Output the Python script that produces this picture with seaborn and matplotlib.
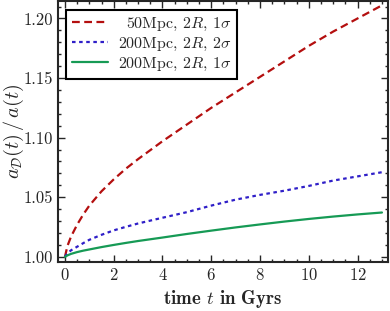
import numpy as np
import pandas as pd
import seaborn as sns
import matplotlib.pyplot as plt
from matplotlib.ticker import MultipleLocator

# time in Gyrs
t = [0, 0.1, 0.25, 0.5, 0.75, 1, 1.5, 2, 2.5, 3, 4, 5, 6, 7, 8, 9, 10, 11, 12, 13]

# a_D(t)/a(t) for each case
r50_2s1 = [1.000, 1.009, 1.017, 1.027, 1.0355, 1.043, 1.055, 1.065, 1.074, 1.082,
           1.097, 1.111, 1.125, 1.138, 1.151, 1.164, 1.177, 1.189, 1.200, 1.211]
r200_2s2 = [1.000, 1.003, 1.0055, 1.0085, 1.0115, 1.0143, 1.0185, 1.0222, 1.0252, 1.028,
            1.0328, 1.0375, 1.043, 1.048, 1.052, 1.0555, 1.0595, 1.064, 1.0675, 1.071]
r200_2s1 = [1.000, 1.0012, 1.0025, 1.004, 1.0052, 1.0062, 1.0082, 1.010, 1.0117, 1.0133,
            1.0162, 1.0192, 1.022, 1.0247, 1.0272, 1.0296, 1.0318, 1.0338, 1.0356, 1.0372]

labels = [r"50Mpc, 2$R$, 1$\sigma$",
          r"200Mpc, 2$R$, 2$\sigma$",
          r"200Mpc, 2$R$, 1$\sigma$"]

sns.set_style("ticks")
plt.rcParams["font.family"] = ["cmr10", "DejaVu Serif"]
plt.rcParams["mathtext.fontset"] = "cm"
plt.rcParams["axes.formatter.use_mathtext"] = True

fig = plt.figure(figsize=(3.9, 3.11), dpi=100)
ax = fig.add_axes([0.149, 0.158, 0.846, 0.839])

sns.lineplot(x=t, y=r50_2s1, ax=ax, color="#b40f0f", lw=1.6,
             linestyle=(0, (3.5, 2)), label=labels[0])
sns.lineplot(x=t, y=r200_2s2, ax=ax, color="#2f1fc8", lw=1.6,
             linestyle=(0, (1.6, 1.6)), label=labels[1])
sns.lineplot(x=t, y=r200_2s1, ax=ax, color="#169a55", lw=1.6,
             linestyle="-", label=labels[2])

ax.set_xlim(-0.28, 13.25)
ax.set_ylim(0.9958, 1.2147)
ax.xaxis.set_major_locator(MultipleLocator(2))
ax.xaxis.set_minor_locator(MultipleLocator(0.5))
ax.yaxis.set_major_locator(MultipleLocator(0.05))
ax.yaxis.set_minor_locator(MultipleLocator(0.01))
ax.yaxis.set_major_formatter(plt.FormatStrFormatter("%.2f"))

ax.tick_params(which="both", direction="in", top=True, right=True,
               width=1.0, labelsize=12)
ax.tick_params(which="major", length=5)
ax.tick_params(which="minor", length=2.5)
for s in ax.spines.values():
    s.set_linewidth(1.5)

ax.set_xlabel(r"time $t$ in Gyrs", fontsize=13.5, family=["cmb10", "DejaVu Serif"])
ax.set_ylabel(r"$a_{\mathcal{D}}(t)\,/\,a(t)$", fontsize=14.5)
ax.yaxis.set_label_coords(-0.097, 0.5)

leg = ax.legend(loc="upper left", bbox_to_anchor=(0.005, 0.99), fontsize=11.5,
                frameon=True, fancybox=False, edgecolor="black",
                handlelength=2.3, borderpad=0.35, labelspacing=0.2,
                handletextpad=0.6, borderaxespad=0.4)
leg.get_frame().set_linewidth(1.5)
leg.get_frame().set_alpha(1)

# right-align legend texts by shifting the shorter ones
renderer = fig.canvas.get_renderer()
widths = [txt.get_window_extent(renderer).width for txt in leg.get_texts()]
for txt, w in zip(leg.get_texts(), widths):
    txt.set_position((max(widths) - w, 0))

fig.savefig("out.png", dpi=100)
